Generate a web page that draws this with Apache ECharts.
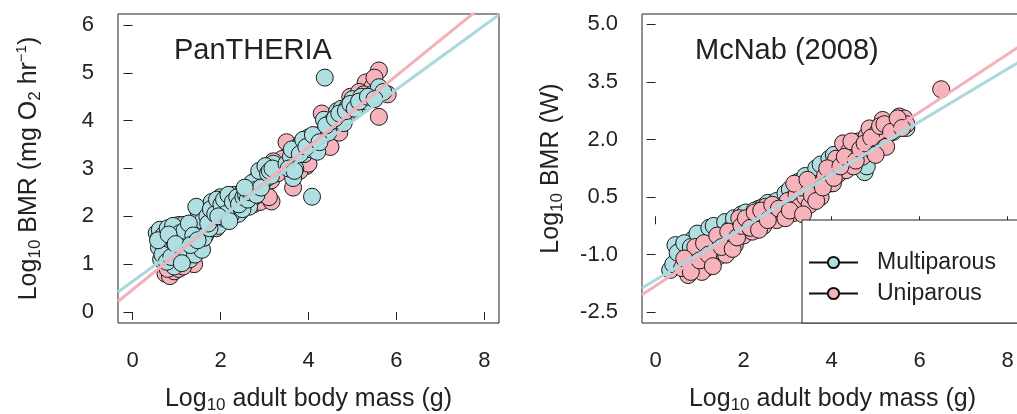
<!DOCTYPE html>
<html>
<head>
<meta charset="utf-8">
<script src="https://cdn.jsdelivr.net/npm/echarts@6/dist/echarts.min.js"></script>
<style>
html,body{margin:0;padding:0;background:#fff;}
#c{width:1017px;height:414px;}
</style>
</head>
<body>
<div id="c"></div>
<script>
// ---------- data ----------
const xTicks = [0, 2, 4, 6, 8];
const leftYTicks = [0, 1, 2, 3, 4, 5, 6];
const rightYTicks = [-2.5, -1.0, 0.5, 2.0, 3.5, 5.0];
const panelTitles = ['PanTHERIA', 'McNab (2008)'];
const groupNames = ['Multiparous', 'Uniparous'];

// PanTHERIA: [log10 mass, log10 BMR]
const panMulti = [
[0.55,1.65],[0.6,1.55],[0.62,1.72],[0.7,1.6],[0.65,1.1],[0.72,1.45],[0.8,1.75],[0.85,1.5],[0.9,1.3],[0.95,1.65],
[1.0,1.75],[1.05,1.82],[1.1,1.55],[1.15,1.82],[1.0,1.0],[0.95,0.95],[1.05,1.2],[1.2,1.4],[1.25,1.65],[1.3,1.1],
[1.35,1.5],[1.4,1.8],[1.45,1.35],[1.5,1.65],[1.55,1.45],[1.5,2.1],[1.45,2.2],[1.6,1.9],[1.65,1.6],[0.75,1.25],
[1.1,1.35],[1.2,1.15],
[0.6,1.35],[0.68,1.2],[0.78,1.05],[0.88,1.15],[0.92,1.8],[1.08,1.65],[1.18,1.7],[1.28,1.85],[1.38,1.6],[1.42,1.2],
[1.58,1.3],[1.62,1.55],[0.58,1.5],[0.82,1.62],[1.12,1.02],[0.98,1.42],[1.32,1.4],[1.48,1.5],
[1.7,2.0],[1.8,2.3],[1.85,1.95],[1.9,2.15],[1.95,1.8],[2.0,2.4],[2.05,2.1],[2.1,1.95],[2.15,2.3],[2.2,2.2],
[2.3,2.45],[2.35,2.2],[2.4,2.05],[2.45,2.35],[2.5,2.5],[2.55,2.3],[2.6,2.55],[2.65,2.2],[2.7,2.6],[2.75,2.45],
[2.8,2.75],[2.85,2.6],[2.9,2.85],[2.95,2.7],[3.0,2.95],[3.05,2.8],[3.1,3.05],[3.15,2.85],[3.2,3.1],[2.25,2.05],
[1.75,1.75],[2.5,2.15],
[1.72,1.85],[1.78,2.15],[1.88,2.05],[1.92,2.35],[2.02,2.25],[2.08,2.35],[2.12,2.05],[2.18,2.45],[2.28,2.3],[2.38,2.4],
[2.42,2.25],[2.52,2.4],[2.58,2.45],[2.62,2.35],[2.68,2.5],[2.72,2.7],[2.78,2.55],[2.82,2.45],[2.88,2.95],[2.92,2.6],
[3.02,3.05],[3.08,2.9],[3.12,2.95],[3.18,3.0],[1.95,2.0],[2.55,2.6],[2.2,1.9],
[3.5,3.1],[3.6,3.25],[3.65,2.8],[3.7,3.0],[3.75,3.45],[3.85,3.55],[3.9,3.3],[4.0,3.65],[4.05,3.4],[4.15,3.5],
[4.2,3.35],[4.35,4.02],[4.45,3.75],[4.55,4.0],[4.65,4.2],[4.75,4.25],[4.8,3.95],[4.9,4.3],[5.0,4.45],[5.1,4.35],
[5.2,4.5],[5.3,4.4],[5.45,4.55],[5.6,4.7],[5.7,4.6],[4.37,4.9],[4.08,2.41],
[3.55,3.0],[3.62,3.4],[3.68,2.95],[3.8,3.3],[3.88,3.6],[3.95,3.45],[4.1,3.7],[4.25,3.55],[4.4,3.9],[4.6,4.05],
[4.7,4.15],[4.85,4.2],[4.95,4.35],[5.05,4.25],[5.15,4.4],[5.35,4.5],[5.5,4.45]
];
const panUni = [
[0.75,0.8],[0.85,0.75],[0.95,0.85],[1.05,0.9],[1.0,1.1],[0.9,0.95],[1.2,1.05],[1.35,1.3],[1.5,1.55],[1.6,1.7],
[1.8,1.85],[2.0,2.0],[2.2,2.05],[2.4,2.15],[2.6,2.4],[2.75,2.25],[2.9,2.3],[3.0,2.6],[3.15,2.75],[3.3,2.9],
[3.4,3.2],[3.55,3.5],[3.65,2.6],[3.75,3.0],[3.9,3.45],[3.95,3.05],[4.1,3.6],[4.25,3.7],[4.5,3.45],[4.6,3.85],
[4.7,3.75],[4.85,4.1],[4.95,4.5],[5.05,4.45],[5.3,4.8],[5.45,4.7],[5.6,5.05],[5.6,4.08],[5.8,4.55],[4.3,4.15],
[3.5,3.55],[2.3,2.35],[2.45,2.1],[1.4,1.0],[3.2,3.15],[3.16,2.31],
[0.8,0.9],[1.15,0.95],[1.7,1.8],[1.9,1.75],[2.1,2.1],[2.7,2.35],[2.85,2.45],[3.1,2.4],[3.6,3.1],[3.8,2.95],
[4.4,4.0],[4.75,3.95],[5.15,4.6],[5.25,4.55],[5.5,4.9],[4.0,3.1]
];
// McNab (2008): [log10 mass, log10 BMR]
const mcMulti = [
[0.33,-1.4],[0.45,-0.75],[0.6,-0.85],[0.55,-1.2],[0.75,-1.05],[0.85,-0.6],[0.9,-0.9],[1.0,-0.75],[1.05,-1.2],[1.1,-0.55],
[1.2,-0.8],[1.25,-0.45],[1.3,-0.65],[1.4,-0.35],[1.42,-1.05],[1.5,-0.5],[1.55,-0.3],[1.6,-0.6],[1.7,-0.2],[1.75,-0.45],
[1.84,-0.31],[1.9,-0.1],[2.0,-0.25],[2.1,0.0],[2.2,0.08],[2.29,-0.05],[2.4,0.05],[2.5,-0.15],[2.6,0.2],[2.7,-0.05],
[2.8,0.35],[2.9,0.3],[3.0,0.5],[3.1,0.35],[3.2,0.7],[3.35,0.69],[3.45,0.85],[3.57,0.73],[3.6,1.1],[3.7,0.95],
[3.8,1.2],[3.9,1.05],[4.0,1.4],[4.1,1.25],[4.2,1.55],[4.35,1.35],[4.5,1.6],[4.6,1.45],[4.75,1.15],[4.86,1.68],
[5.0,1.9],[5.2,2.1],[5.4,2.2],[5.62,2.42],[5.7,2.3],[0.7,-1.3],[1.15,-1.35],[1.65,-0.85],[2.35,0.2],[3.3,0.5],
[0.4,-1.25],[0.5,-0.95],[0.65,-0.7],[0.8,-0.8],[0.95,-0.45],[1.12,-0.85],[1.22,-0.3],[1.32,-0.25],[1.45,-0.6],[1.58,-0.15],
[1.68,-0.35],[1.78,-0.05],[1.95,0.05],[2.05,0.1],[2.15,-0.2],[2.25,0.15],[2.45,0.25],[2.55,0.35],[2.65,0.05],[2.75,0.4],
[2.85,0.15],[2.95,0.6],[3.05,0.7],[3.15,0.5],[3.25,0.9],[3.4,1.05],[3.5,0.6],[3.65,1.25],[3.75,1.35],[3.85,0.95],
[3.95,1.5],[4.05,1.6],[4.25,1.45],[4.45,1.75],[4.55,1.55],[4.7,1.8],[4.8,1.3],[4.95,1.75],[5.1,1.95],[5.3,2.15],[5.5,2.35]
];
const mcUni = [
[0.74,-1.53],[0.6,-1.35],[0.85,-1.3],[0.95,-1.0],[1.05,-1.45],[1.15,-0.95],[1.25,-1.2],[1.35,-0.7],[1.45,-0.9],[1.55,-0.55],
[1.6,-1.0],[1.7,-0.6],[1.8,-0.75],[1.9,-0.35],[2.0,-0.5],[2.1,-0.2],[2.2,-0.4],[2.3,-0.1],[2.45,-0.25],[2.6,0.05],
[2.75,-0.1],[2.9,0.15],[3.0,0.4],[3.12,0.08],[3.2,0.55],[3.27,0.25],[3.4,0.5],[3.5,0.3],[3.6,0.7],[3.7,0.85],
[3.75,0.5],[3.85,1.05],[3.95,0.85],[4.03,0.86],[4.1,1.5],[4.15,1.1],[4.26,1.9],[4.33,1.2],[4.4,1.7],[4.5,1.3],
[4.6,1.95],[4.7,1.55],[4.8,2.1],[4.86,2.29],[4.95,1.7],[5.05,2.2],[5.16,2.51],[5.24,1.81],[5.3,2.35],[5.45,2.45],
[5.54,2.6],[5.65,2.55],[5.7,2.4],[6.49,3.31],[1.9,-0.05],[2.5,0.25],[3.3,0.75],[4.0,1.2],[0.9,-0.8],
[0.65,-1.1],[0.8,-1.45],[1.0,-1.15],[1.1,-0.7],[1.2,-1.0],[1.3,-1.3],[1.4,-0.5],[1.5,-0.8],[1.65,-0.4],[1.75,-0.85],
[1.85,-0.55],[1.95,-0.25],[2.05,-0.05],[2.15,-0.3],[2.25,0.1],[2.35,-0.35],[2.4,0.15],[2.55,-0.1],[2.65,0.3],[2.8,0.2],
[2.95,-0.05],[3.05,0.15],[3.15,0.85],[3.35,0.05],[3.45,0.95],[3.55,0.55],[3.65,0.4],[3.8,0.75],[3.9,1.25],[4.05,1.0],
[4.2,1.3],[4.3,1.55],[4.45,1.95],[4.55,1.45],[4.65,1.75],[4.75,1.9],[4.9,2.05],[5.0,1.6],[5.1,2.35],[5.2,2.4],
[5.35,2.2],[5.5,2.55],[5.6,2.3]
];
// regression fits [intercept, slope]
const panFitMulti = [0.64, 0.669];
const panFitUni = [0.466, 0.746];
const mcFitMulti = [-1.655, 0.687];
const mcFitUni = [-1.81, 0.754];

// ---------- styling ----------
const FONT = '"Liberation Sans", Arial, Helvetica, sans-serif';
const BLUE = '#b0dfe3', PINK = '#f7b3bb';
const BLUE_LINE = '#a9d9dd', PINK_LINE = '#f4b1b9';
const INK = '#222';

const xRange = [[-0.33, 8.33], [-0.31, 8.35]];
const yRange = [[-0.23, 6.23], [-2.78, 5.27]];

function fitLine(fit, r) {
  return [[r[0], fit[0] + fit[1] * r[0]], [r[1], fit[0] + fit[1] * r[1]]];
}

const rich = {
  a: { fontSize: 25, fontFamily: FONT, color: INK, lineHeight: 30 },
  sub: { fontSize: 17, fontFamily: FONT, color: INK, lineHeight: 17, verticalAlign: 'bottom' },
  sup: { fontSize: 15, fontFamily: FONT, color: INK, lineHeight: 15, verticalAlign: 'top' }
};

function xAxisCfg(i) {
  return {
    type: 'value', gridIndex: i, min: xRange[i][0], max: xRange[i][1],
    name: '{a|Log}{sub|10}{a| adult body mass (g)}', nameLocation: 'middle', nameGap: 61,
    nameTextStyle: { rich: rich },
    splitLine: { show: false },
    axisLine: { show: false },
    axisTick: { show: true, inside: false, length: 8, customValues: xTicks, lineStyle: { color: INK, width: 1 } },
    axisLabel: { customValues: xTicks, fontSize: 22, fontFamily: FONT, color: INK, margin: 27 }
  };
}
function yAxisCfg(i, ticks, name, fmt, margin, gapExtra) {
  return {
    type: 'value', gridIndex: i, min: yRange[i][0], max: yRange[i][1],
    name: name, nameLocation: 'middle', nameGap: margin + gapExtra,
    nameTextStyle: { rich: rich },
    splitLine: { show: false },
    axisLine: { show: false },
    axisTick: { show: true, inside: false, length: 9, customValues: ticks, lineStyle: { color: INK, width: 1 } },
    axisLabel: { customValues: ticks, fontSize: 22, fontFamily: FONT, color: INK, margin: margin, formatter: fmt }
  };
}

function scatter(name, data, color, gi, z) {
  return {
    type: 'scatter', name: name, xAxisIndex: gi, yAxisIndex: gi, data: data,
    symbol: 'circle', symbolSize: 17, z: z,
    itemStyle: { color: color, borderColor: '#1a1a1a', borderWidth: 1, opacity: 1 },
    emphasis: { disabled: true }, silent: true
  };
}
function fit(name, fitArr, color, gi) {
  return {
    type: 'line', name: name, xAxisIndex: gi, yAxisIndex: gi, data: fitLine(fitArr, xRange[gi]),
    showSymbol: false, symbol: 'none', clip: true, z: 10, silent: true,
    lineStyle: { color: color, width: 3 }
  };
}
function legendSeries(name, color) {
  return {
    type: 'line', name: name, xAxisIndex: 1, yAxisIndex: 1, data: [],
    symbol: 'circle', symbolSize: 13,
    lineStyle: { color: '#111', width: 2 },
    itemStyle: { color: color, borderColor: '#111', borderWidth: 1.5 }
  };
}

const gridBase = { top: 14, width: 381, height: 309, show: true, borderColor: INK, borderWidth: 1,
  backgroundColor: 'transparent', containLabel: false, outerBoundsMode: 'none' };

const option = {
  animation: false,
  backgroundColor: '#fff',
  title: [
    { text: panelTitles[0], left: 174, top: 36, padding: 0, textStyle: { fontSize: 29, fontWeight: 'normal', fontFamily: FONT, color: INK } },
    { text: panelTitles[1], left: 695, top: 36, padding: 0, textStyle: { fontSize: 29, fontWeight: 'normal', fontFamily: FONT, color: INK } }
  ],
  grid: [
    Object.assign({ left: 118 }, gridBase),
    Object.assign({ left: 642 }, gridBase)
  ],
  xAxis: [xAxisCfg(0), xAxisCfg(1)],
  yAxis: [
    yAxisCfg(0, leftYTicks, '{a|Log}{sub|10}{a| BMR (mg O}{sub|2}{a| hr}{sup|−1}{a|)}', v => String(v), 24, 50),
    yAxisCfg(1, rightYTicks, '{a|Log}{sub|10}{a| BMR (W)}', v => v.toFixed(1), 24, 52)
  ],
  legend: {
    data: groupNames, orient: 'vertical', left: 808, top: 251,
    itemWidth: 49, itemHeight: 14, itemGap: 8, padding: 0,
    textStyle: { fontSize: 23, fontFamily: FONT, color: INK, padding: [0, 0, 0, 14] },
    selectedMode: false, z: 30
  },
  graphic: [
    { type: 'rect', z: 20, silent: true,
      shape: { x: 802, y: 220, width: 240, height: 103 },
      style: { fill: '#fff', stroke: INK, lineWidth: 1 } }
  ],
  series: [
    scatter('PanTHERIA uniparous', panUni, PINK, 0, 2),
    scatter('PanTHERIA multiparous', panMulti, BLUE, 0, 3),
    fit('PanTHERIA uniparous fit', panFitUni, PINK_LINE, 0),
    fit('PanTHERIA multiparous fit', panFitMulti, BLUE_LINE, 0),
    scatter('McNab multiparous', mcMulti, BLUE, 1, 2),
    scatter('McNab uniparous', mcUni, PINK, 1, 3),
    fit('McNab uniparous fit', mcFitUni, PINK_LINE, 1),
    fit('McNab multiparous fit', mcFitMulti, BLUE_LINE, 1),
    legendSeries(groupNames[0], BLUE),
    legendSeries(groupNames[1], PINK)
  ]
};
const chart = echarts.init(document.getElementById('c'), null, { renderer: 'canvas' });
chart.setOption(option);
</script>
</body>
</html>
